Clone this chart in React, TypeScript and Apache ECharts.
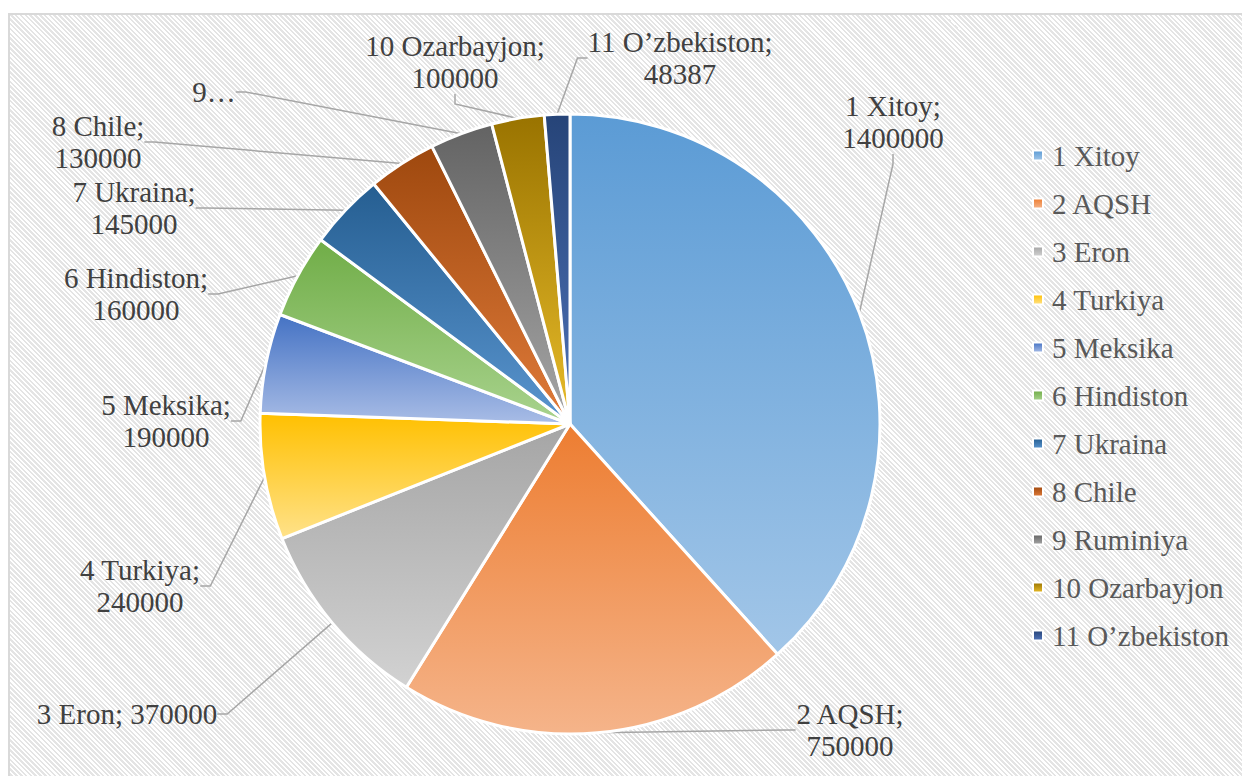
import React, { useEffect, useRef } from "react";
import * as echarts from "echarts";

const names = [
  "1 Xitoy",
  "2 AQSH",
  "3 Eron",
  "4 Turkiya",
  "5 Meksika",
  "6 Hindiston",
  "7 Ukraina",
  "8 Chile",
  "9 Ruminiya",
  "10 Ozarbayjon",
  "11 O\u2019zbekiston",
];
const values = [1400000, 750000, 370000, 240000, 190000, 160000, 145000, 130000, 120000, 100000, 48387];
// how each data label is written: "wrap" = name;\nvalue, "inline" = name; value, "cut" = truncated
const labelModes = ["wrap", "wrap", "inline", "wrap", "wrap", "wrap", "wrap", "wrap", "cut", "wrap", "wrap"];

// gradient colours (top, bottom) per slice
const topColors = ["#5B9BD5", "#ED7D31", "#A5A5A5", "#FFC000", "#4472C4", "#70AD47", "#255E91", "#9E480E", "#636363", "#997300", "#264478"];
const bottomColors = ["#A2C6E8", "#F5B48A", "#D2D2D2", "#FFE28A", "#A9BDE6", "#A9D38E", "#5A95CF", "#E07B3A", "#A6A6A6", "#E8BC2A", "#4F73B8"];

// label placement (layout only)
const labelPos: [number, number][] = [
  [893, 122],
  [850, 730],
  [127, 714],
  [140, 586],
  [166, 421],
  [136, 294],
  [134, 208],
  [98, 142],
  [214, 92],
  [455, 62],
  [680, 58],
];

const FONT = "Liberation Serif";

export default function App() {
  const ref = useRef<HTMLDivElement>(null);
  useEffect(() => {
    if (!ref.current) return;
    const chart = echarts.init(ref.current, null, { renderer: "svg" });
    const patchFonts = () => {
      const zr: any = chart.getZr();
      if (!zr || !zr.storage) return;
      const list = zr.storage.getDisplayList(true);
      let changed = false;
      list.forEach((d: any) => {
        if (d && d.type === "tspan" && d.style && d.style.fontFamily !== FONT) {
          const m = String(d.style.font || "").match(/(\d+(?:\.\d+)?)px/);
          d.style.fontSize = m ? Number(m[1]) : 29;
          d.style.fontFamily = FONT;
          if (d.markRedraw) d.markRedraw();
          changed = true;
        }
      });
      if (changed) zr.refreshImmediately();
    };
    chart.on("finished", patchFonts);
    const data = names.map((n, i) => ({
      name: n,
      value: values[i],
      itemStyle: {
        color: new echarts.graphic.LinearGradient(0, 0, 0, 1, [
          { offset: 0, color: topColors[i] },
          { offset: 1, color: bottomColors[i] },
        ]),
      },
    }));
    chart.setOption({
      animation: false,
      backgroundColor: "transparent",
      textStyle: { fontFamily: FONT },
      legend: {
        orient: "vertical",
        left: 1027,
        top: 135,
        itemWidth: 10,
        itemHeight: 10,
        itemGap: 17,
        icon: "rect",
        itemStyle: { borderColor: "#ffffff", borderWidth: 2 },
        textStyle: {
          color: "#595959",
          fontSize: 29,
          fontFamily: FONT,
          lineHeight: 31,
          padding: [0, 0, 0, 4],
        },
        data: names,
      },
      series: [
        {
          type: "pie",
          center: [570, 424],
          radius: 310,
          startAngle: 90,
          clockwise: true,
          avoidLabelOverlap: false,
          itemStyle: { borderColor: "#ffffff", borderWidth: 3 },
          emphasis: { disabled: true },
          label: {
            show: true,
            position: "outside",
            color: "#404040",
            fontSize: 29,
            fontFamily: FONT,
            lineHeight: 32,
            align: "center",
            formatter: (p: any) => {
              const m = labelModes[p.dataIndex];
              if (m === "cut") return p.name.split(" ")[0] + "\u2026";
              if (m === "inline") return `${p.name}; ${p.value}`;
              return `${p.name};\n${p.value}`;
            },
          },
          labelLine: {
            show: true,
            length: 10,
            length2: 10,
            lineStyle: { color: "#A6A6A6", width: 1.5 },
          },
          labelLayout: (params: any) => {
            const pos = labelPos[params.dataIndex];
            return {
              x: pos[0],
              y: pos[1],
              align: "center",
              verticalAlign: "middle",
              hideOverlap: false,
            };
          },
          data,
        },
      ],
    });
    patchFonts();
    return () => chart.dispose();
  }, []);

  return (
    <div
      style={{
        position: "fixed",
        left: 0,
        top: 0,
        width: 1242,
        height: 776,
        background: "#ffffff",
        overflow: "hidden",
      }}
    >
      <div
        style={{
          position: "absolute",
          left: 8,
          top: 13,
          width: 1260,
          height: 800,
          border: "2px solid #D9D9D9",
          boxSizing: "border-box",
          background:
            "repeating-linear-gradient(45deg, #ffffff 0px, #ffffff 1.6px, #e4e4e4 1.6px, #e4e4e4 3.4px)",
        }}
      />
      <div ref={ref} style={{ position: "absolute", left: 0, top: 0, width: 1242, height: 776 }} />
    </div>
  );
}
